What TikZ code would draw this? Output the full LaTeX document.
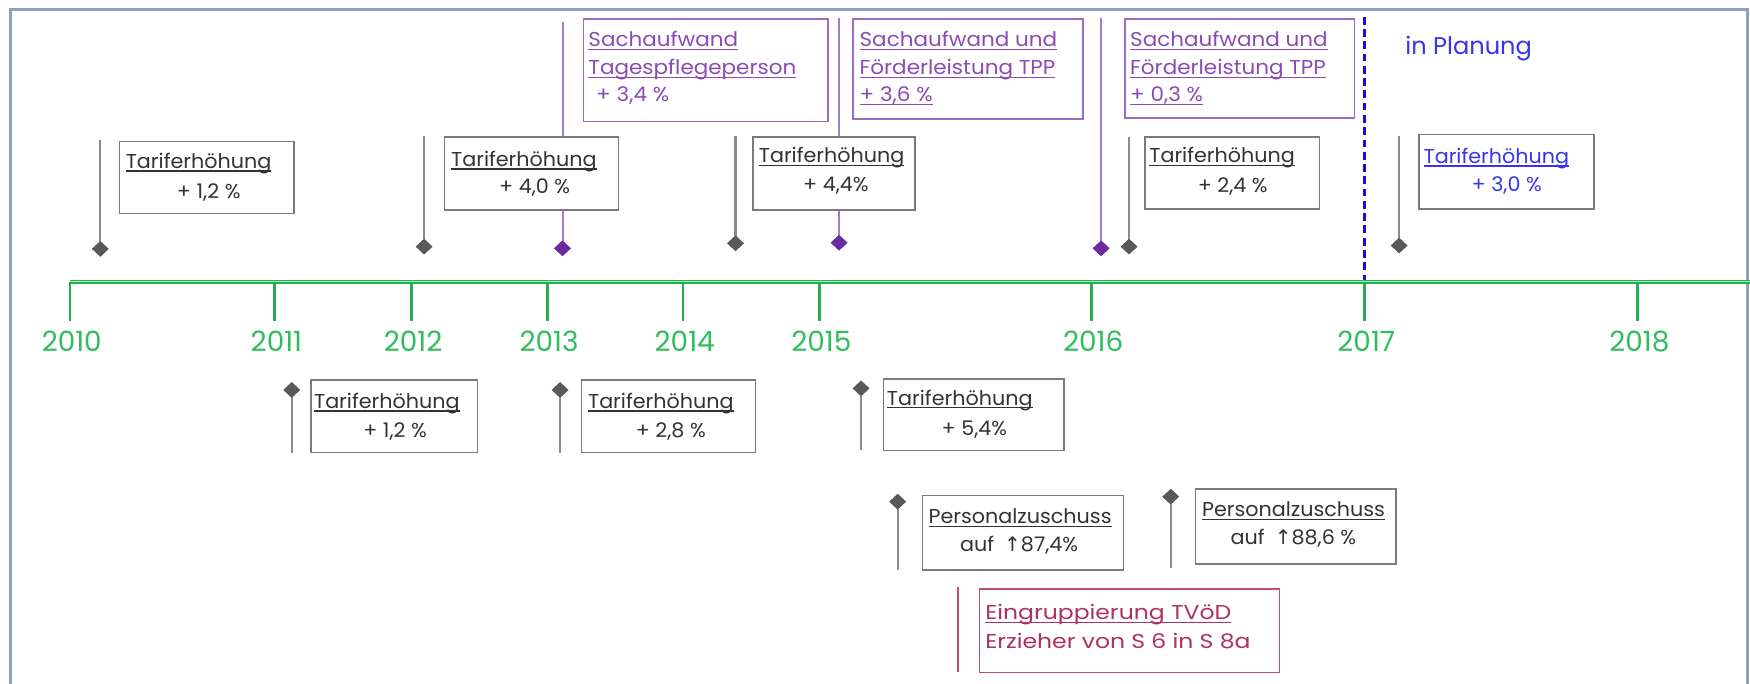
\documentclass[tikz,border=0pt]{standalone}
\usepackage{fontspec}
\setmainfont{Poppins}
\newfontfamily\fgrey[FakeStretch=1.03]{Poppins}
\newfontfamily\fpurp[FakeStretch=1.07]{Poppins}
\newfontfamily\fered[FakeStretch=1.17]{Poppins}
\newfontfamily\arrowfont{DejaVu Sans}
\usetikzlibrary{shapes.geometric}
\definecolor{boxgrey}{HTML}{7A7A7A}
\definecolor{txtgrey}{HTML}{333333}
\definecolor{stemgrey}{HTML}{8C8C8C}
\definecolor{diagrey}{HTML}{595959}
\definecolor{purpleline}{HTML}{A07CD2}
\definecolor{purplebox}{HTML}{9B6BC8}
\definecolor{purpletext}{HTML}{8A4BB5}
\definecolor{purplediam}{HTML}{6A2CA0}
\definecolor{axgreen}{HTML}{22B150}
\definecolor{axlight}{HTML}{A8E8B8}
\definecolor{yeargreen}{HTML}{2EBE5C}
\definecolor{planblue}{HTML}{3535F0}
\definecolor{dashblue}{HTML}{1010E0}
\definecolor{ebox}{HTML}{C24B72}
\definecolor{etext}{HTML}{B0305E}
\definecolor{bordercol}{HTML}{8DA2C0}
\newsavebox\ulsave
\newcommand{\ulx}[1]{\sbox\ulsave{#1}\rlap{\rule[-3pt]{\wd\ulsave}{1.1pt}}\usebox\ulsave}
\tikzset{
  tbox/.style={draw=boxgrey, line width=1.3pt, fill=white, rectangle, inner sep=0pt, anchor=north west},
  pbox/.style={draw=purplebox, line width=1.5pt, fill=white, rectangle, inner sep=0pt, anchor=north west},
  ebx/.style={draw=ebox, line width=1.5pt, fill=white, rectangle, inner sep=0pt, anchor=north west},
  gstem/.style={draw=stemgrey, line width=1.8pt},
  pstem/.style={draw=purpleline, line width=1.8pt},
  estem/.style={draw=ebox, line width=1.6pt},
  gdiam/.style={diamond, fill=diagrey, minimum width=15pt, minimum height=14pt, inner sep=0pt},
  pdiam/.style={diamond, fill=purplediam, minimum width=15pt, minimum height=14pt, inner sep=0pt},
  txt/.style={inner sep=0pt, font=\fgrey\fontsize{18}{22}\selectfont, text=txtgrey},
  ptxt/.style={inner sep=0pt, font=\fpurp\fontsize{18}{22}\selectfont, text=purpletext},
  btxt/.style={txt, text=planblue},
  etxt/.style={inner sep=0pt, font=\fered\fontsize{18}{22}\selectfont, text=etext},
  yearlbl/.style={inner sep=0pt, font=\fontsize{25}{28}\selectfont, text=yeargreen, anchor=base},
  tick/.style={draw=axgreen, line width=2.5pt},
  axisline/.style={draw=axgreen, line width=1pt, double=axlight, double distance=1.4pt},
}
\begin{document}
\begin{tikzpicture}[x=1pt,y=-1pt]
\useasboundingbox (0,0) rectangle (1568,612);
\fill[white] (0,0) rectangle (1568,612);
% frame
\draw[bordercol, line width=2.6pt] (9.6,640) -- (9.6,8.4) -- (1566,8.4) -- (1566,640);

% axis
\coordinate (axs) at (62.8,252.4);
\coordinate (axe) at (1570,252.4);
\foreach \x/\y in {62.8/2010, 246.2/2011, 368.6/2012, 490.4/2013, 612/2014, 734.5/2015, 978/2016, 1222.7/2017, 1467.4/2018}{
  \draw[tick] (\x,252.4) -- (\x,288);
  \node[yearlbl] (y\y) at (\x+1.5,314.5) {\y};
}
\draw[axisline] (axs) -- (axe);

% planning line
\coordinate (pl1) at (1222.7,15);
\coordinate (pl2) at (1222.7,251);
\draw[dashblue, line width=2.4pt, dash pattern=on 7pt off 4pt] (pl1) -- (pl2);
\node[inner sep=0pt, text=planblue, anchor=base west, font=\fontsize{21.6}{24}\selectfont] (plan) at (1259,48.8) {in Planung};

% ---- upper stems and diamonds
\coordinate (s1) at (89.9,125.4);   \node[gdiam] (d1) at (89.9,223) {};
\coordinate (s2) at (380,122);      \node[gdiam] (d2) at (380,221) {};
\coordinate (s3) at (504,19.4);     \node[pdiam] (d3) at (504,222.5) {};
\coordinate (s4) at (659,122);      \node[gdiam] (d4) at (659,218) {};
\coordinate (s5) at (751.8,16.4);   \node[pdiam] (d5) at (751.8,217.5) {};
\coordinate (s6) at (986.6,16.4);   \node[pdiam] (d6) at (986.6,222.5) {};
\coordinate (s7) at (1011.6,122.5); \node[gdiam] (d7) at (1011.6,221) {};
\coordinate (s8) at (1253.6,122);   \node[gdiam] (d8) at (1253.6,220) {};
\draw[gstem] (s1) -- (d1.center);
\draw[gstem] (s2) -- (d2.center);
\draw[pstem] (s3) -- (d3.center);
\draw[gstem] (s4) -- (d4.center);
\draw[pstem] (s5) -- (d5.center);
\draw[pstem] (s6) -- (d6.center);
\draw[gstem] (s7) -- (d7.center);
\draw[gstem] (s8) -- (d8.center);
\node[gdiam] at (d1) {}; \node[gdiam] at (d2) {}; \node[pdiam] at (d3) {};
\node[gdiam] at (d4) {}; \node[pdiam] at (d5) {}; \node[pdiam] at (d6) {};
\node[gdiam] at (d7) {}; \node[gdiam] at (d8) {};

% ---- upper boxes
\node[tbox, minimum width=156.3pt, minimum height=64.6pt] (u1) at (106.3,126) {};
\node[txt, anchor=base west] (u1a) at (112.5,150.8) {\ulx{Tariferhöhung}};
\node[txt, anchor=base] (u1b) at (187,177.7) {+ 1,2 \%};

\node[tbox, minimum width=155.9pt, minimum height=65.6pt] (u2) at (397.8,122) {};
\node[txt, anchor=base west] (u2a) at (404,149) {\ulx{Tariferhöhung}};
\node[txt, anchor=base] (u2b) at (479,173) {+ 4,0 \%};

\node[pbox, minimum width=219.4pt, minimum height=92pt] (u3) at (522,16) {};
\node[ptxt, anchor=base west] (u3a) at (527,41.8) {\ulx{Sachaufwand}};
\node[ptxt, anchor=base west] (u3b) at (527,67) {\ulx{Tagespflegeperson}};
\node[ptxt, anchor=base west] (u3c) at (534,91) {+ 3,4 \%};

\node[tbox, minimum width=145.3pt, minimum height=65.6pt] (u4) at (673.9,122) {};
\node[txt, anchor=base west] (u4a) at (679.7,146) {\ulx{Tariferhöhung}};
\node[txt, anchor=base] (u4b) at (749,171.7) {+ 4,4\%};

\node[pbox, minimum width=205.8pt, minimum height=89.6pt] (u5) at (763.7,16.4) {};
\node[ptxt, anchor=base west] (u5a) at (770,41.8) {\ulx{Sachaufwand und}};
\node[ptxt, anchor=base west] (u5b) at (770,67) {\ulx{Förderleistung TPP}};
\node[ptxt, anchor=base west] (u5c) at (770,91) {\ulx{+ 3,6 \%}};

\node[pbox, minimum width=206pt, minimum height=88.6pt] (u6) at (1007,16.4) {};
\node[ptxt, anchor=base west] (u6a) at (1012.4,41.8) {\ulx{Sachaufwand und}};
\node[ptxt, anchor=base west] (u6b) at (1012.4,67) {\ulx{Förderleistung TPP}};
\node[ptxt, anchor=base west] (u6c) at (1012.4,91) {\ulx{+ 0,3 \%}};

\node[tbox, minimum width=156pt, minimum height=64.7pt] (u7) at (1025.4,122) {};
\node[txt, anchor=base west] (u7a) at (1029.6,146) {\ulx{Tariferhöhung}};
\node[txt, anchor=base] (u7b) at (1104.5,172.6) {+ 2,4 \%};

\node[tbox, minimum width=156.8pt, minimum height=66.7pt] (u8) at (1270.8,120) {};
\node[btxt, anchor=base west] (u8a) at (1275.3,146.3) {\ulx{Tariferhöhung}};
\node[btxt, anchor=base] (u8b) at (1350,171.7) {+ 3,0 \%};

% ---- lower stems
\node[gdiam] (l1d) at (261.4,349.4) {}; \coordinate (l1e) at (261.4,406);
\node[gdiam] (l2d) at (501.8,349.4) {}; \coordinate (l2e) at (501.8,406);
\node[gdiam] (l3d) at (771.5,348) {};   \coordinate (l3e) at (771.5,403);
\node[gdiam] (p1d) at (804.3,449.5) {}; \coordinate (p1e) at (804.3,510.7);
\node[gdiam] (p2d) at (1049,445) {};    \coordinate (p2e) at (1049,509.2);
\draw[gstem] (l1d.center) -- (l1e);
\draw[gstem] (l2d.center) -- (l2e);
\draw[gstem] (l3d.center) -- (l3e);
\draw[gstem] (p1d.center) -- (p1e);
\draw[gstem] (p2d.center) -- (p2e);
\node[gdiam] at (l1d) {}; \node[gdiam] at (l2d) {}; \node[gdiam] at (l3d) {};
\node[gdiam] at (p1d) {}; \node[gdiam] at (p2d) {};
\coordinate (e1) at (858.7,525.7); \coordinate (e2) at (858.7,601.8);
\draw[estem] (e1) -- (e2);

% ---- lower boxes
\node[tbox, minimum width=149.4pt, minimum height=64.8pt] (l1) at (278,339.9) {};
\node[txt, anchor=base west] (l1a) at (281.2,365.9) {\ulx{Tariferhöhung}};
\node[txt, anchor=base] (l1b) at (354,391.9) {+ 1,2 \%};

\node[tbox, minimum width=156.3pt, minimum height=64.7pt] (l2) at (520.2,340) {};
\node[txt, anchor=base west] (l2a) at (526.7,365.9) {\ulx{Tariferhöhung}};
\node[txt, anchor=base] (l2b) at (601,391.9) {+ 2,8 \%};

\node[tbox, minimum width=161.6pt, minimum height=64pt] (l3) at (790.9,339) {};
\node[txt, anchor=base west] (l3a) at (794.5,362.9) {\ulx{Tariferhöhung}};
\node[txt, anchor=base] (l3b) at (873,389.8) {+ 5,4\%};

\node[tbox, minimum width=180.1pt, minimum height=66.5pt] (p1) at (825.8,443.5) {};
\node[txt, anchor=base west] (p1a) at (831.8,469) {\ulx{Personalzuschuss}};
\node[txt, anchor=base west] (p1b) at (860,494) {auf\hspace{9pt}{\arrowfont ↑}87,4\%};

\node[tbox, minimum width=179.3pt, minimum height=67.2pt] (p2) at (1070.7,437.5) {};
\node[txt, anchor=base west] (p2a) at (1076.8,463) {\ulx{Personalzuschuss}};
\node[txt, anchor=base west] (p2b) at (1102.5,488.3) {auf\hspace{9pt}{\arrowfont ↑}88,6 \%};

\node[ebx, minimum width=269pt, minimum height=74.8pt] (eb) at (876.8,527) {};
\node[etxt, anchor=base west] (eba) at (882.6,555) {\ulx{Eingruppierung TVöD}};
\node[etxt, anchor=base west] (ebb) at (882.6,581) {Erzieher von S 6 in S 8a};
\end{tikzpicture}
\end{document}
